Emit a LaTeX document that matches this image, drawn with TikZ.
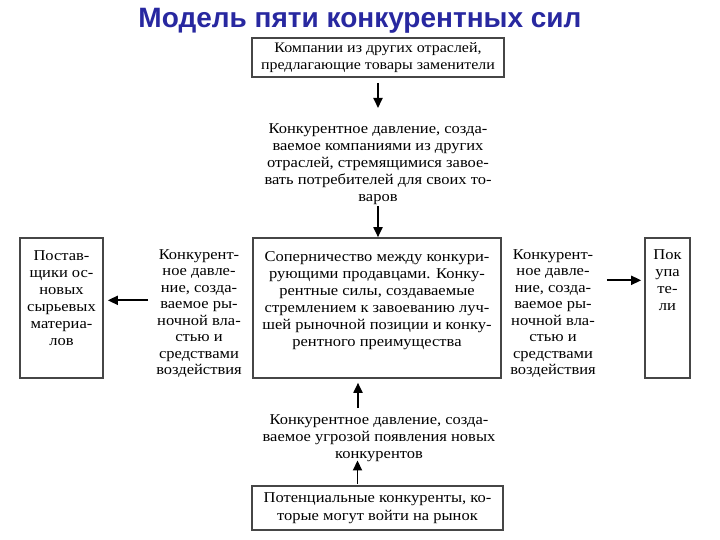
\documentclass[tikz,border=0pt]{standalone}
\usepackage{fontspec}
\setmainfont[FakeStretch=1.1]{Liberation Serif}
\newfontfamily\titlefont{Liberation Sans}
\definecolor{titleblue}{RGB}{40,40,160}
\definecolor{boxgray}{RGB}{70,70,70}
\usetikzlibrary{arrows.meta, positioning}

\begin{document}
\begin{tikzpicture}[x=1pt, y=-1pt,
    box/.style={draw=boxgray, line width=1.6pt, align=center, inner sep=1pt, font=\fontsize{15}{17.5}\selectfont},
    txt/.style={align=center, inner sep=1pt, font=\fontsize{15}{17}\selectfont},
    arr/.style={-{Triangle[length=10pt, width=9pt]}, line width=1.8pt}]
  \useasboundingbox (0,0) rectangle (720,540);

  % Title
  \node[font=\titlefont\bfseries\fontsize{28}{30}\selectfont, text=titleblue] (title) at (360,21) {Модель пяти конкурентных сил};

  % Boxes
  \node[box, minimum width=252pt, minimum height=39pt, font=\fontsize{14.5}{17.5}\selectfont] (subst) at (378,57.5) {Компании из других отраслей,\\предлагающие товары заменители};
  \node[box, minimum width=248pt, minimum height=140pt] (rivalry) at (377,308) {};
  \node[box, minimum width=83pt, minimum height=140pt] (supp) at (61.5,308) {};
  \node[box, minimum width=45pt, minimum height=140pt] (buyers) at (667.5,308) {};
  \node[box, minimum width=251pt, minimum height=44pt] (potent) at (377.5,508) {Потенциальные конкуренты, ко-\\торые могут войти на рынок};

  % Texts inside the tall boxes
  \node[txt, anchor=north] (rivalryt) at ([yshift=-13pt]rivalry.north) {Соперничество между конкури-\\рующими продавцами. Конку-\\рентные силы, создаваемые\\стремлением к завоеванию луч-\\шей рыночной позиции и конку-\\рентного преимущества};
  \node[txt, anchor=north] (suppt) at ([yshift=-12pt]supp.north) {Постав-\\щики ос-\\новых\\сырьевых\\материа-\\лов};
  \node[txt, anchor=north] (buyerst) at ([yshift=-11pt]buyers.north) {Пок\\упа\\те-\\ли};

  % Pressures
  \node[txt, anchor=north] (substp) at (378,122) {Конкурентное давление, созда-\\ваемое компаниями из других\\отраслей, стремящимися завое-\\вать потребителей для своих то-\\варов};
  \node[txt, anchor=north, font=\fontsize{15}{16.5}\selectfont] (supptp) at (199,248) {Конкурент-\\ное давле-\\ние, созда-\\ваемое ры-\\ночной вла-\\стью и\\средствами\\воздействия};
  \node[txt, anchor=north, font=\fontsize{15}{16.5}\selectfont] (buyerstp) at (553,248) {Конкурент-\\ное давле-\\ние, созда-\\ваемое ры-\\ночной вла-\\стью и\\средствами\\воздействия};
  \node[txt, anchor=north] (newp) at (379,413) {Конкурентное давление, созда-\\ваемое угрозой появления новых\\конкурентов};

  % Arrows
  \draw[arr, shorten <=5pt, shorten >=14pt] (subst.south) -- (substp.north);
  \draw[arr, shorten <=1pt] (substp.south) -- (substp.south |- rivalry.north);
  \draw[arr, shorten <=7pt, shorten >=4pt] ([yshift=13pt]supptp.west) -- ([yshift=13pt]supptp.west -| supp.east);
  \draw[arr, shorten <=10pt, shorten >=3pt] ([yshift=33pt]buyerstp.east) -- ([yshift=33pt]buyerstp.east -| buyers.west);
  \draw[arr, shorten <=1pt, shorten >=-2pt] ([xshift=-20pt]potent.north) -- ([xshift=-20pt]potent.north |- newp.south);
  \draw[arr, shorten <=5pt, shorten >=4pt] ([xshift=-21pt]newp.north) -- ([xshift=-21pt]newp.north |- rivalry.south);
\end{tikzpicture}
\end{document}
